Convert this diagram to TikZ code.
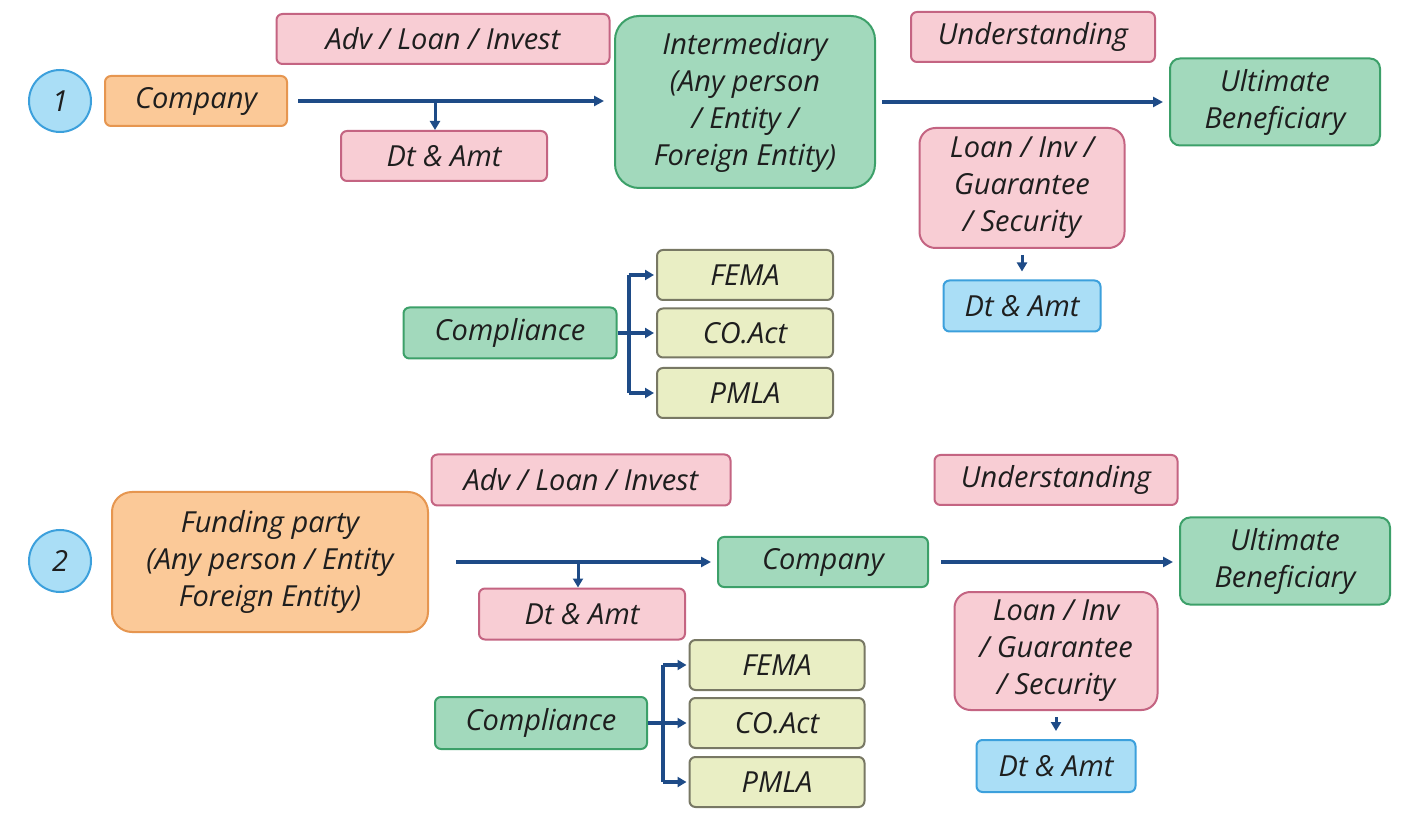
\documentclass[tikz,border=0pt]{standalone}
\usepackage{fontspec}
\setmainfont{Open Sans}
\usetikzlibrary{arrows.meta}

\definecolor{pinkfill}{RGB}{248,205,212}
\definecolor{pinkdraw}{RGB}{196,100,130}
\definecolor{orangefill}{RGB}{251,201,152}
\definecolor{orangedraw}{RGB}{230,150,80}
\definecolor{greenfill}{RGB}{162,217,188}
\definecolor{greendraw}{RGB}{60,160,105}
\definecolor{olivefill}{RGB}{233,238,196}
\definecolor{olivedraw}{RGB}{120,120,100}
\definecolor{bluefill}{RGB}{170,222,246}
\definecolor{bluedraw}{RGB}{60,160,220}
\definecolor{flowblue}{RGB}{30,75,135}
\definecolor{inktext}{RGB}{30,30,30}

\tikzset{
  box/.style={draw, line width=1pt, rounded corners=3pt, align=center,
    font=\itshape\fontsize{14.5}{18.5}\selectfont, text=inktext, inner sep=0pt},
  sz/.style 2 args={minimum width=#1*0.5pt, minimum height=#2*0.5pt},
  pinkbox/.style={box, fill=pinkfill, draw=pinkdraw},
  orangebox/.style={box, fill=orangefill, draw=orangedraw},
  greenbox/.style={box, fill=greenfill, draw=greendraw},
  olivebox/.style={box, fill=olivefill, draw=olivedraw},
  bluebox/.style={box, fill=bluefill, draw=bluedraw},
  numcircle/.style={circle, draw=bluedraw, fill=bluefill, line width=1pt,
    minimum size=31pt, inner sep=0pt, text=inktext,
    font=\itshape\fontsize{14.5}{18.5}\selectfont},
  flow/.style={draw=flowblue, line width=1.8pt,
    -{Triangle[length=5pt,width=5pt]}},
  flowthin/.style={draw=flowblue, line width=1.5pt,
    -{Triangle[length=4.5pt,width=5pt]}},
  bracket/.style={draw=flowblue, line width=2pt},
  brarrow/.style={draw=flowblue, line width=2pt,
    -{Triangle[length=4.5pt,width=5pt]}}
}

\begin{document}
\begin{tikzpicture}[x=0.5pt,y=-0.5pt]
  \useasboundingbox (0,0) rectangle (1418,833);
  \fill[white] (0,0) rectangle (1418,833);

  % ---------- Case 1: company lends through an intermediary ----------
  \node[numcircle] (n1) at (60,101) {1};
  \node[orangebox, sz={182}{50}] (co1) at (196,101) {Company};
  \node[pinkbox, sz={333}{50}] (adv1) at (443,39) {Adv / Loan / Invest};
  \node[pinkbox, sz={206}{50}] (dt1) at (444,156) {Dt \& Amt};
  \node[greenbox, sz={260}{172}, rounded corners=12pt] (int1) at (745,102)
    {Intermediary\\(Any person\\/ Entity /\\Foreign Entity)};
  \node[pinkbox, sz={244}{50}] (und1) at (1033,37) {Understanding};
  \node[greenbox, sz={210}{87}, rounded corners=5pt] (ub1) at (1275,102)
    {Ultimate\\Beneficiary};
  \node[pinkbox, sz={205}{120}, rounded corners=8pt] (lig1) at (1022,188)
    {Loan / Inv /\\Guarantee\\/ Security};
  \node[bluebox, sz={157}{51}] (da1) at (1022,306) {Dt \& Amt};
  \node[greenbox, sz={213}{51}] (cmp1) at (510,333) {Compliance};
  \node[olivebox, sz={176}{50}] (fema1) at (745,275) {FEMA};
  \node[olivebox, sz={176}{49}] (coa1) at (745,333) {CO.Act};
  \node[olivebox, sz={176}{50}] (pmla1) at (745,393) {PMLA};

  \draw[flow] ([xshift=5pt]co1.east) -- ([xshift=-5pt]int1.west |- co1.east);
  \draw[flowthin] ([xshift=-4.5pt]dt1.north |- co1.east) -- ([xshift=-4.5pt]dt1.north);
  \draw[flow] ([xshift=3pt]int1.east |- ub1.west) -- ([xshift=-3pt]ub1.west);
  \draw[flowthin] ([yshift=-3pt]lig1.south) -- ([yshift=4pt]da1.north);

  \coordinate (b1) at ([xshift=5.5pt]cmp1.east);
  \draw[bracket] (cmp1.east) -- (b1);
  \draw[bracket] (b1 |- fema1.west) -- (b1 |- pmla1.west);
  \draw[brarrow] (b1 |- fema1.west) -- ([xshift=-1pt]fema1.west);
  \draw[brarrow] (b1 |- coa1.west) -- ([xshift=-1pt]coa1.west);
  \draw[brarrow] (b1 |- pmla1.west) -- ([xshift=-1pt]pmla1.west);

  % ---------- Case 2: funding party lends through the company ----------
  \node[numcircle] (n2) at (60,561) {2};
  \node[orangebox, sz={316}{140}, rounded corners=10pt] (fund2) at (270,562)
    {Funding party\\(Any person / Entity\\Foreign Entity)};
  \node[pinkbox, sz={299}{51}] (adv2) at (581,480) {Adv / Loan / Invest};
  \node[pinkbox, sz={206}{51}] (dt2) at (582,614) {Dt \& Amt};
  \node[greenbox, sz={210}{50}] (co2) at (823,562) {Company};
  \node[pinkbox, sz={243}{50}] (und2) at (1056,480) {Understanding};
  \node[greenbox, sz={210}{87}, rounded corners=5pt] (ub2) at (1285,561)
    {Ultimate\\Beneficiary};
  \node[pinkbox, sz={203}{118}, rounded corners=8pt] (lig2) at (1056,651)
    {Loan / Inv\\/ Guarantee\\/ Security};
  \node[bluebox, sz={159}{52}] (da2) at (1056,766) {Dt \& Amt};
  \node[greenbox, sz={212}{52}] (cmp2) at (541,723) {Compliance};
  \node[olivebox, sz={175}{50}] (fema2) at (777,665) {FEMA};
  \node[olivebox, sz={175}{50}] (coa2) at (777,723) {CO.Act};
  \node[olivebox, sz={175}{50}] (pmla2) at (777,782) {PMLA};

  \draw[flow] ([xshift=13.5pt]fund2.east |- co2.west) -- ([xshift=-3pt]co2.west);
  \draw[flowthin] ([xshift=-2pt]dt2.north |- co2.west) -- ([xshift=-2pt]dt2.north);
  \draw[flow] ([xshift=6pt]co2.east) -- ([xshift=-3pt]ub2.west |- co2.east);
  \draw[flowthin] ([yshift=-3pt]lig2.south) -- ([yshift=4pt]da2.north);

  \coordinate (b2) at ([xshift=7.5pt]cmp2.east);
  \draw[bracket] (cmp2.east) -- (b2);
  \draw[bracket] (b2 |- fema2.west) -- (b2 |- pmla2.west);
  \draw[brarrow] (b2 |- fema2.west) -- ([xshift=-1pt]fema2.west);
  \draw[brarrow] (b2 |- coa2.west) -- ([xshift=-1pt]coa2.west);
  \draw[brarrow] (b2 |- pmla2.west) -- ([xshift=-1pt]pmla2.west);
\end{tikzpicture}
\end{document}
